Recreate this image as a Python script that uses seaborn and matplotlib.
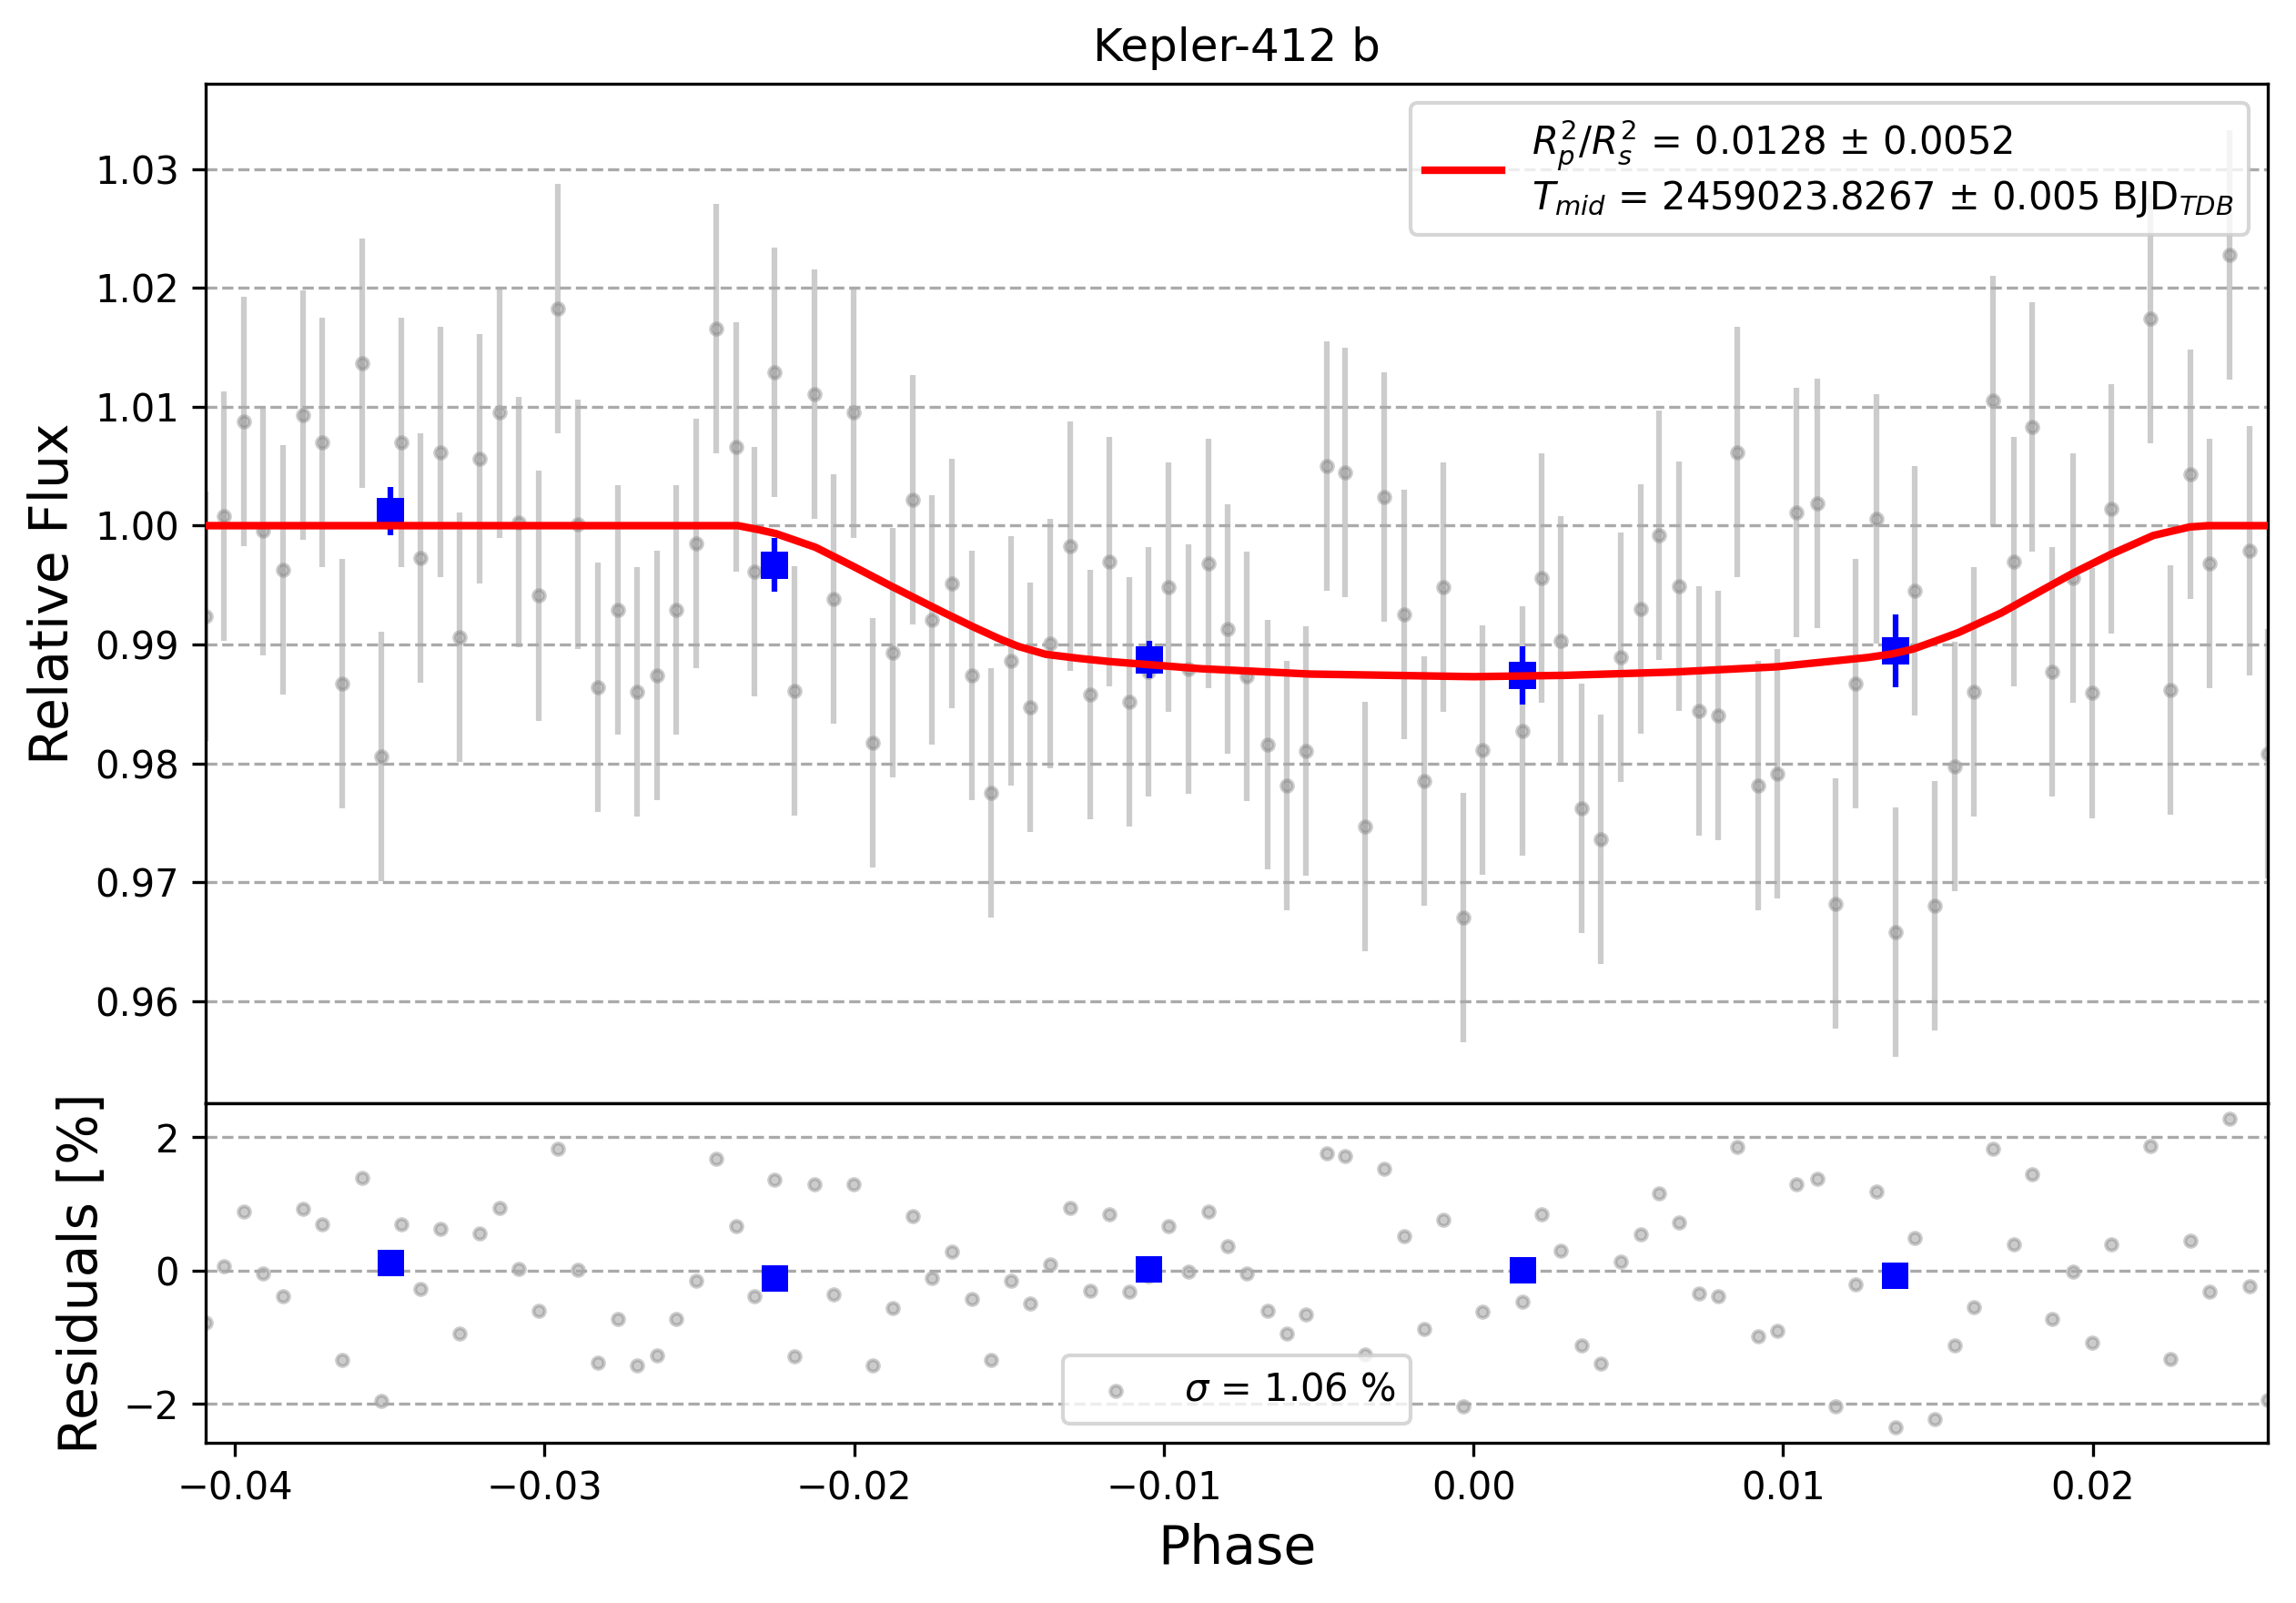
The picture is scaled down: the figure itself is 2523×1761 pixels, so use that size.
import numpy as np
import matplotlib
matplotlib.use('Agg')
import matplotlib.pyplot as plt
import seaborn as sns

planet = 'Kepler-412 b'

# phase of every detrended point
phase = [-0.04094, -0.04034, -0.03970, -0.03908, -0.03844, -0.03781, -0.03717, -0.03652,
         -0.03590, -0.03526, -0.03463, -0.03400, -0.03337, -0.03273, -0.03211, -0.03146,
         -0.03082, -0.03018, -0.02956, -0.02891, -0.02829, -0.02764, -0.02700, -0.02638,
         -0.02574, -0.02509, -0.02446, -0.02382, -0.02321, -0.02256, -0.02192, -0.02127,
         -0.02065, -0.02001, -0.01939, -0.01874, -0.01810, -0.01748, -0.01683, -0.01619,
         -0.01558, -0.01492, -0.01431, -0.01367, -0.01302, -0.01237, -0.01176, -0.01111,
         -0.01049, -0.00985, -0.00921, -0.00857, -0.00794, -0.00732, -0.00666, -0.00603,
         -0.00541, -0.00475, -0.00414, -0.00349, -0.00287, -0.00224, -0.00160, -0.00096,
         -0.00034, 0.00029, 0.00157, 0.00220, 0.00282, 0.00348, 0.00411, 0.00475,
         0.00539, 0.00599, 0.00664, 0.00727, 0.00790, 0.00852, 0.00918, 0.00981,
         0.01043, 0.01109, 0.01170, 0.01234, 0.01300, 0.01362, 0.01425, 0.01489,
         0.01553, 0.01616, 0.01678, 0.01744, 0.01804, 0.01869, 0.01935, 0.01998,
         0.02060, 0.02186, 0.02251, 0.02316, 0.02378, 0.02442, 0.02505, 0.02565]

flux = [0.9924, 1.0008, 1.0088, 0.9996, 0.9963, 1.0093, 1.0070, 0.9867,
        1.0137, 0.9806, 1.0070, 0.9973, 1.0062, 0.9906, 1.0056, 1.0095,
        1.0003, 0.9941, 1.0183, 1.0001, 0.9864, 0.9929, 0.9860, 0.9874,
        0.9929, 0.9985, 1.0166, 1.0066, 0.9961, 1.0129, 0.9861, 1.0111,
        0.9938, 1.0095, 0.9817, 0.9893, 1.0022, 0.9921, 0.9951, 0.9874,
        0.9775, 0.9886, 0.9847, 0.9901, 0.9983, 0.9858, 0.9970, 0.9852,
        0.9877, 0.9948, 0.9879, 0.9968, 0.9913, 0.9873, 0.9816, 0.9781,
        0.9810, 1.0050, 1.0045, 0.9747, 1.0024, 0.9925, 0.9785, 0.9948,
        0.9670, 0.9811, 0.9827, 0.9956, 0.9903, 0.9762, 0.9736, 0.9889,
        0.9930, 0.9992, 0.9949, 0.9844, 0.9840, 1.0062, 0.9781, 0.9791,
        1.0011, 1.0019, 0.9682, 0.9867, 1.0006, 0.9658, 0.9945, 0.9680,
        0.9797, 0.9860, 1.0105, 0.9970, 1.0083, 0.9877, 0.9956, 0.9859,
        1.0014, 1.0174, 0.9862, 1.0043, 0.9968, 1.0228, 0.9979, 0.9808]

flux_err = 0.0105

# residuals in percent
residuals = [-0.78, 0.07, 0.88, -0.04, -0.38, 0.93, 0.70, -1.34,
             1.39, -1.95, 0.70, -0.27, 0.62, -0.95, 0.56, 0.94,
             0.02, -0.60, 1.83, 0.01, -1.38, -0.72, -1.42, -1.27,
             -0.72, -0.15, 1.67, 0.66, -0.38, 1.36, -1.28, 1.30,
             -0.36, 1.30, -1.42, -0.56, 0.81, -0.11, 0.28, -0.42,
             -1.34, -0.15, -0.49, 0.09, 0.94, -0.30, 0.85, -0.32,
             -0.09, 0.67, -0.02, 0.89, 0.36, -0.04, -0.60, -0.95,
             -0.65, 1.76, 1.72, -1.26, 1.52, 0.52, -0.88, 0.76,
             -2.04, -0.61, -0.47, 0.84, 0.30, -1.12, -1.39, 0.14,
             0.55, 1.16, 0.72, -0.34, -0.38, 1.85, -0.99, -0.90,
             1.29, 1.37, -2.04, -0.21, 1.18, -2.35, 0.49, -2.22,
             -1.12, -0.55, 1.83, 0.40, 1.45, -0.72, -0.01, -1.08,
             0.40, 1.87, -1.32, 0.45, -0.32, 2.28, -0.23, -1.94]

# transit model
model_phase = [-0.04094, -0.02375, -0.02310, -0.02254, -0.02125, -0.02007, -0.01881,
               -0.01763, -0.01704, -0.01616, -0.01528, -0.01469, -0.01381, -0.01278,
               -0.01175, -0.00882, -0.00529, 0.00000, 0.00294, 0.00647, 0.00979,
               0.01272, 0.01351, 0.01419, 0.01493, 0.01566, 0.01704, 0.01822,
               0.01934, 0.02057, 0.02195, 0.02313, 0.02372, 0.02565]
model_flux = [1.0, 1.0, 0.99967, 0.99934, 0.99818, 0.99663, 0.99492,
              0.99337, 0.99260, 0.99149, 0.99044, 0.98983, 0.98917, 0.98884,
              0.98856, 0.98796, 0.98751, 0.98729, 0.98740, 0.98768, 0.98812,
              0.98890, 0.98920, 0.98961, 0.99030, 0.99100, 0.99265, 0.99436,
              0.99597, 0.99757, 0.99917, 0.99989, 1.0, 1.0]

# binned points
bin_phase = [-0.03497, -0.02256, -0.01048, 0.00159, 0.01362]
bin_flux = [1.0012, 0.99669, 0.98873, 0.98740, 0.98945]
bin_err = [0.00204, 0.00227, 0.00160, 0.00243, 0.00304]
bin_resid = [0.109, -0.123, 0.014, 0.0, -0.082]

rp_label = r'$R^{2}_{p}/R^{2}_{s}$ = 0.0128 ± 0.0052'
tmid_label = r'$T_{mid}$ = 2459023.8267 ± 0.005 BJD$_{TDB}$'
sigma_label = r'$\sigma$ = 1.06 %'

fig, (ax_lc, ax_res) = plt.subplots(2, 1, figsize=(8.41, 5.87), dpi=300,
                                    gridspec_kw={'height_ratios': [3, 1]})
plt.subplots_adjust(left=0.0896, right=0.9877, top=0.9478, bottom=0.0999, hspace=0.0)

ax_lc.set_title(planet)

# light curve
ax_lc.errorbar(phase, flux, yerr=flux_err, ls='none', marker='.', color='gray',
               zorder=1, alpha=0.4)
sns.lineplot(x=model_phase, y=model_flux, color='r', lw=2, zorder=1000,
             sort=False, estimator=None, label=rp_label + '\n' + tmid_label, ax=ax_lc)
ax_lc.errorbar(bin_phase, bin_flux, yerr=bin_err, fmt='s', ms=7, mfc='b', mec='None',
               ecolor='b', zorder=10)
ax_lc.set_ylabel('Relative Flux', fontsize=14)
ax_lc.get_xaxis().set_visible(False)
ax_lc.legend(loc='upper right')
ax_lc.grid(axis='y', ls='--', color='#aaaaaa', lw=0.8)

# residuals
sns.scatterplot(x=phase, y=residuals, color='gray', alpha=0.4, s=9, edgecolor='gray',
                linewidth=1, label=sigma_label, ax=ax_res)
sns.scatterplot(x=bin_phase, y=bin_resid, marker='s', s=49, color='b', edgecolor='none',
                zorder=10, ax=ax_res)
ax_res.set_ylabel('Residuals [%]', fontsize=14)
ax_res.set_xlabel('Phase', fontsize=14)
ax_res.legend(loc='lower center')
ax_res.grid(axis='y', ls='--', color='#aaaaaa', lw=0.8)

ax_lc.set_xlim(min(phase), max(phase))
ax_res.set_xlim(min(phase), max(phase))

fig.savefig('out.png', dpi=300)
